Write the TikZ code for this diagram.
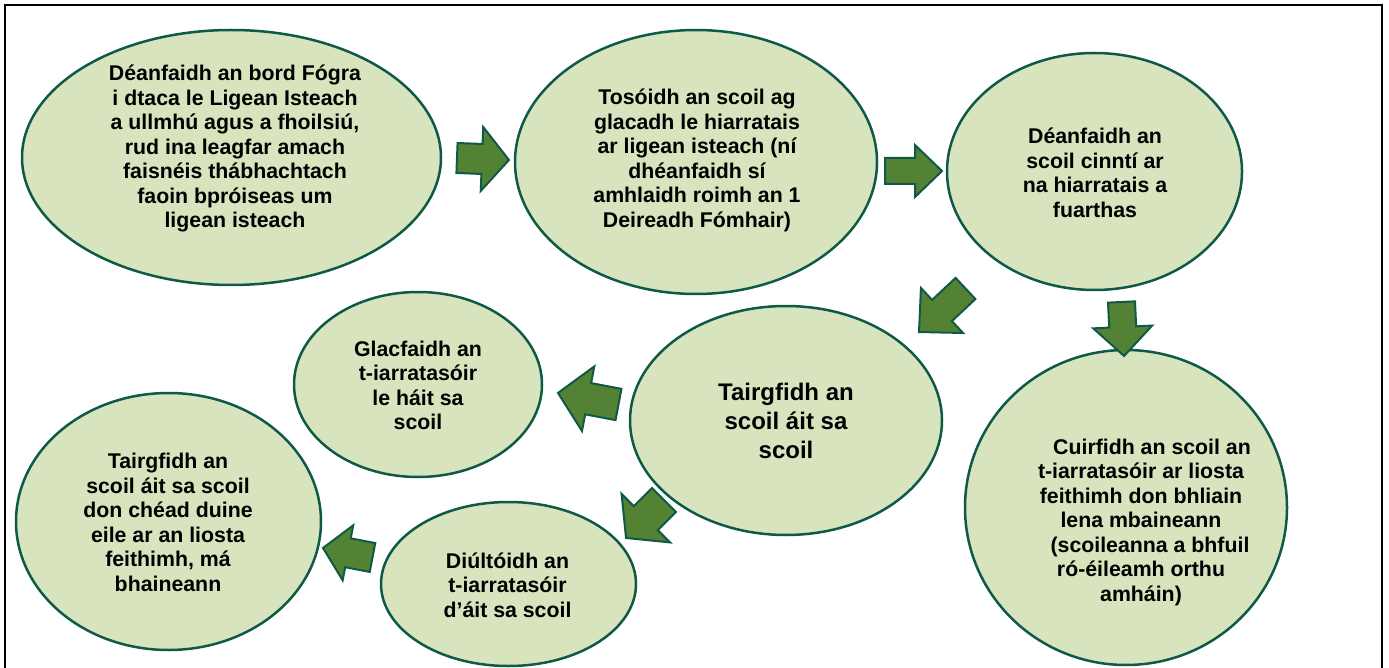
\documentclass[tikz,border=0pt]{standalone}
\usepackage{fontspec}
\setmainfont{Liberation Sans}
\usetikzlibrary{shapes.geometric}
\definecolor{bubblefill}{HTML}{D7E4BD}
\definecolor{edgegreen}{HTML}{0E5A47}
\definecolor{arrowfill}{HTML}{548235}
\tikzset{
 bubble/.style={ellipse, draw=edgegreen, line width=2.5pt, fill=bubblefill, inner sep=0pt},
 txt/.style={align=center, font=\fontsize{21.3}{24.5}\selectfont\bfseries, inner sep=0pt, text=black},
 bigtxt/.style={align=center, font=\fontsize{24}{28.8}\selectfont\bfseries, inner sep=0pt, text=black},
 blockarrow/.style={draw=edgegreen, line width=2pt, fill=arrowfill, line join=miter},
 frame/.style={draw=black, line width=2pt}
}
% name, tail x, tail y, screen angle, length, shaft half width, head half width, head length
\newcommand\barrow[8]{%
 \begin{scope}[shift={(#2,#3)}, rotate=-#4]
 \coordinate (#1) at (0,0);
 \draw[blockarrow] (0,-#6) -- ({#5-#8},-#6) -- ({#5-#8},-#7) -- (#5,0) -- ({#5-#8},#7) -- ({#5-#8},#6) -- (0,#6) -- cycle;
 \end{scope}}
\begin{document}
\begin{tikzpicture}[x=1pt,y=-1pt]
\useasboundingbox (0,0) rectangle (1389,668);
\coordinate (fbl) at (5,668);
\coordinate (ftl) at (5,5);
\coordinate (ftr) at (1382,5);
\coordinate (fbr) at (1382,668);
\draw[frame] (fbl) -- (ftl) -- (ftr) -- (fbr);

\node[bubble, minimum width=419pt, minimum height=255pt] (e1) at (231.5,157.5) {};
\node[bubble, minimum width=362pt, minimum height=264pt] (e2) at (696,162) {};
\node[bubble, minimum width=295pt, minimum height=237pt] (e3) at (1094.5,171.5) {};
\node[bubble, minimum width=312pt, minimum height=229pt] (e4) at (786,420.5) {};
\node[bubble, minimum width=248pt, minimum height=185pt] (e5) at (418,384.5) {};
\node[bubble, minimum width=322pt, minimum height=315pt] (e6) at (1126,507.5) {};
\node[bubble, minimum width=255pt, minimum height=164pt] (e7) at (508.5,584) {};
\node[bubble, minimum width=305pt, minimum height=257pt] (e8) at (168.5,521.5) {};

\node[txt] (t1) at (235,148.5) {Déanfaidh an bord Fógra\\ i dtaca le Ligean Isteach\\ a ullmhú agus a fhoilsiú,\\ rud ina leagfar amach\\ faisnéis thábhachtach\\ faoin bpróiseas um\\ ligean isteach};
\node[txt] (t2) at (697,160.5) {Tosóidh an scoil ag\\ glacadh le hiarratais\\ ar ligean isteach (ní\\ dhéanfaidh sí\\ amhlaidh roimh an 1\\ Deireadh Fómhair)};
\node[txt] (t3) at (1095,173) {Déanfaidh an\\ scoil cinntí ar\\ na hiarratais a\\ fuarthas};
\node[bigtxt] (t4) at (786,421) {Tairgfidh an\\ scoil áit sa\\ scoil};
\node[txt] (t5) at (418,385.5) {Glacfaidh an\\ t-iarratasóir\\ le háit sa\\ scoil};
\node[txt] (t6) at (1141,522) {\hspace*{22pt}Cuirfidh an scoil an\\ t-iarratasóir ar liosta\\ feithimh don bhliain\\ lena mbaineann\\ \hspace*{18pt}(scoileanna a bhfuil\\ ró-éileamh orthu\\ amháin)};
\node[txt] (t7) at (507.5,585) {Diúltóidh an\\ t-iarratasóir\\ d’áit sa scoil};
\node[txt] (t8) at (168,522.5) {Tairgfidh an\\ scoil áit sa scoil\\ don chéad duine\\ eile ar an liosta\\ feithimh, má\\ bhaineann};

\barrow{a1}{457}{158}{2.2}{52}{15}{32}{27}
\barrow{a2}{885}{171}{0}{57}{13}{26}{27}
\barrow{a3}{965.5}{288.5}{136.9}{63.7}{14.5}{30.8}{31.5}
\barrow{a4}{1121.5}{302}{87.3}{54}{13.5}{29.5}{29}
\barrow{a5}{618.5}{404.5}{190.8}{61.6}{15.9}{32.9}{30.7}
\barrow{a6}{664}{500}{135}{53.7}{17}{34.3}{28}
\barrow{a7}{372.5}{557.5}{190.9}{50.4}{14.7}{28}{25.4}
\end{tikzpicture}
\end{document}
